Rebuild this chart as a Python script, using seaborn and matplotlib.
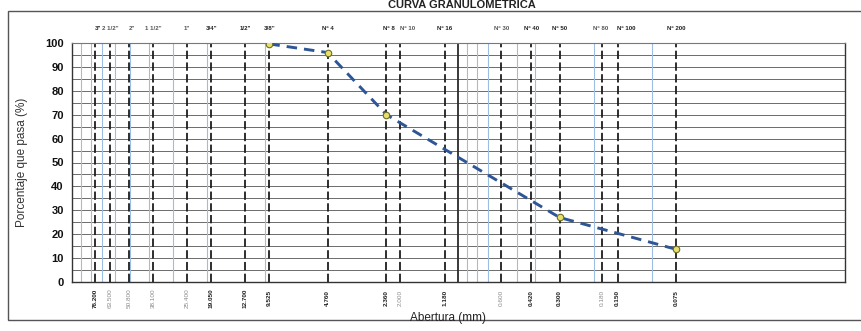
import matplotlib
matplotlib.use("Agg")
import matplotlib.pyplot as plt
import matplotlib.transforms as mtransforms
from matplotlib.patches import Rectangle
import seaborn as sns
import pandas as pd

# Sieve series (ASTM): openings in mm and their designations
sieve_mm = [76.2, 63.5, 50.8, 38.1, 25.4, 19.05, 12.7, 9.525, 4.76,
            2.36, 2.0, 1.18, 0.6, 0.42, 0.3, 0.18, 0.15, 0.075]
sieve_names = ['3"', '2 1/2"', '2"', '1 1/2"', '1"', '3/4"', '1/2"', '3/8"', 'Nº 4',
               'Nº 8', 'Nº 10', 'Nº 16', 'Nº 30', 'Nº 40', 'Nº 50', 'Nº 80', 'Nº 100', 'Nº 200']
size_labels = ['76.200', '63.500', '50.800', '38.100', '25.400', '19.050', '12.700', '9.525', '4.760',
               '2.360', '2.000', '1.180', '0.600', '0.420', '0.300', '0.180', '0.150', '0.075']
sieves_in_use = ['3"', '3/4"', '1/2"', '3/8"', 'Nº 4', 'Nº 8', 'Nº 16', 'Nº 40', 'Nº 50', 'Nº 100', 'Nº 200']

# Grading results: opening (mm) vs. percent passing
opening_mm = [9.525, 4.76, 2.36, 0.3, 0.075]
percent_passing = [99.6, 96.0, 70.0, 27.0, 13.7]

# Log-paper minor rulings
minor_lines = [90, 80, 70, 60, 50, 40, 30, 20, 10,
               0.9, 0.8, 0.7, 0.5, 0.4, 0.2, 0.1]

sns.set_theme(style="white")
plt.rcParams['font.family'] = ['Liberation Sans', 'DejaVu Sans']

W, H = 861, 331
fig = plt.figure(figsize=(W / 100, H / 100), dpi=100)
fig.patch.set_facecolor("white")
left, right, top, bottom = 72, 845, 43, 282
ax = fig.add_axes([left / W, 1 - bottom / H, (right - left) / W, (bottom - top) / H])

ax.set_xscale("log")
ax.set_xlim(100, 0.01)
ax.set_ylim(0, 100)

# horizontal rulings every 5 %
ax.set_yticks(range(0, 101, 10))
ax.set_yticks(range(5, 100, 10), minor=True)
ax.grid(True, axis="y", which="both", color="#6b6b6b", lw=0.7)
ax.set_xticks([])
ax.set_xticks([], minor=True)

for v in minor_lines:
    ax.axvline(v, color="#9dbde3", lw=0.8, zorder=1)
ax.axvline(1.0, color="#2a2a2a", lw=1.3, zorder=1)
for v in sieve_mm:
    ax.axvline(v, color="#1e1e1e", lw=1.3, ls=(0, (4.6, 1.9)), zorder=2)

df = pd.DataFrame({"Abertura": opening_mm, "Pasa": percent_passing})
sns.lineplot(data=df, x="Abertura", y="Pasa", ax=ax, color="#2e5596", lw=2.1,
             dashes=False, zorder=4, estimator=None, sort=False)
ax.lines[-1].set_linestyle((0, (3.6, 2.4)))
sns.scatterplot(data=df, x="Abertura", y="Pasa", ax=ax, s=22, color="#e6df6a",
                edgecolor="#6d6d2a", linewidth=0.8, zorder=5)

for s in ax.spines.values():
    s.set_color("#333333")
    s.set_linewidth(1.0)
ax.spines["top"].set_color("#777777")
ax.spines["top"].set_linewidth(0.8)

ax.tick_params(axis="y", labelsize=8, colors="#111111", length=0, pad=6)
for t in ax.get_yticklabels():
    t.set_fontweight("semibold")
ax.set_xlabel("")
ax.set_ylabel("Porcentaje que pasa (%)", fontsize=8.5, color="#333333", labelpad=12)

# nudges (points) for crowded sieve names along the top
name_shift = {'3"': 2, '2"': 2, 'Nº 8': 2, 'Nº 10': 5, 'Nº 80': -1.5, 'Nº 100': 6}

trans = mtransforms.blended_transform_factory(ax.transData, ax.transAxes)
for v, name, lab in zip(sieve_mm, sieve_names, size_labels):
    strong = name in sieves_in_use
    ax.annotate(name, xy=(v, 1.06), xycoords=trans,
                xytext=(name_shift.get(name, 0), 0), textcoords="offset points",
                ha="center", va="center", fontsize=4.4, fontweight="bold",
                color="#222222" if strong else "#555555")
    ax.text(v, -0.068, lab, transform=trans, ha="center", va="center", rotation=90,
            fontsize=4.6, fontweight="bold" if strong else "normal",
            color="#222222" if strong else "#8a8a8a")

fig.text(448 / W, 1 - 318 / H, "Abertura (mm)", ha="center", va="center",
         fontsize=8.5, color="#222222")
fig.text(462 / W, 1 - 5.5 / H, "CURVA GRANULOMETRICA", ha="center", va="center",
         fontsize=8, fontweight="bold", color="#222222")

fig.patches.append(Rectangle((8 / W, 1 - 320 / H), (870 - 8) / W, (320 - 11) / H,
                             transform=fig.transFigure, fill=False,
                             edgecolor="#555555", lw=1.0))

fig.savefig("out.png", dpi=100)
